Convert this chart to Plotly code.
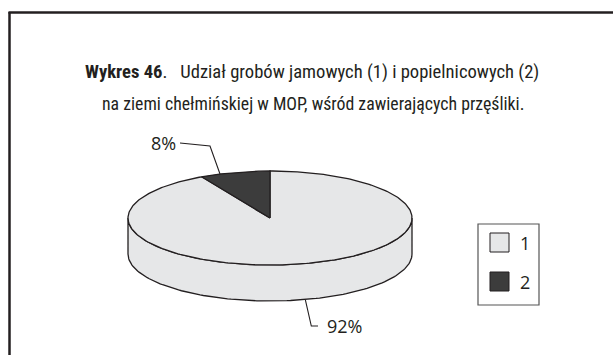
import numpy as np
import plotly.graph_objects as go

# Data
categories = ["1", "2"]
shares = [92, 8]
labels = ["92%", "8%"]
colors = ["#e6e7e8", "#3c3c3c"]

title_line1 = "<b>Wykres 46</b>.   Udział grobów jamowych (1) i popielnicowych (2)"
title_line2 = "na ziemi chełmińskiej w MOP, wśród zawierających przęśliki."

W, H = 613, 355
TITLE_FONT = "Liberation Sans Narrow, Roboto Condensed, Arial Narrow, Liberation Sans, sans-serif"
LABEL_FONT = "Open Sans, Noto Sans, DejaVu Sans, sans-serif"
INK = "#231f20"

# Pie geometry (pixel space)
cx, cy, ra, rb, depth = 270, 218, 142, 47, 36


def edge(phi_deg, dy=0.0):
    p = np.radians(phi_deg)
    return cx + ra * np.sin(p), cy - rb * np.cos(p) + dy


fig = go.Figure()

total = float(sum(shares))
starts, ends = [], []
acc = 0.0
for s in shares:
    starts.append(acc / total * 360)
    acc += s
    ends.append(acc / total * 360)

# Side walls: only the front half (90..270 deg clockwise from 12 o'clock) is visible
for i, cat in enumerate(categories):
    lo, hi = max(starts[i], 90), min(ends[i], 270)
    if hi <= lo:
        continue
    ph = np.linspace(lo, hi, 120)
    xt, yt = edge(ph)
    xb, yb = edge(ph[::-1], depth)
    xs = np.concatenate([xt, xb, xt[:1]])
    ys = np.concatenate([yt, yb, yt[:1]])
    fig.add_trace(go.Scatter(x=xs, y=ys, mode="lines", fill="toself",
                             fillcolor=colors[i], line=dict(color=INK, width=1.3),
                             hoverinfo="skip", showlegend=False))

# Top faces
for i, cat in enumerate(categories):
    ph = np.linspace(starts[i], ends[i], 300)
    xe, ye = edge(ph)
    xs = np.concatenate([[cx], xe, [cx]])
    ys = np.concatenate([[cy], ye, [cy]])
    fig.add_trace(go.Scatter(x=xs, y=ys, mode="lines", fill="toself",
                             fillcolor=colors[i], line=dict(color=INK, width=1.3),
                             hoverinfo="skip", showlegend=False, name=cat))

# Data labels with leader lines
label_pos = {"1": (344, 326), "2": (163, 143)}
for i, cat in enumerate(categories):
    mid = (starts[i] + ends[i]) / 2
    front = 90 < mid < 270
    ax_, ay_ = edge(mid, depth if front else 0)
    tx, ty = label_pos[cat]
    if front:
        elbow = (ax_ + 6, ty)
        tail = (tx - 26, ty)
        lx, ly = [ax_, elbow[0], tail[0]], [ay_, elbow[1], tail[1]]
    else:
        ax_, ay_ = 220, 174
        lx, ly = [ax_, 210, tx + 17], [ay_, ty + 3, ty]
    fig.add_trace(go.Scatter(x=lx, y=ly, mode="lines",
                             line=dict(color=INK, width=1.1),
                             hoverinfo="skip", showlegend=False))
    fig.add_annotation(x=tx, y=ty, text=labels[i], showarrow=False,
                       font=dict(family=LABEL_FONT, size=18, color=INK),
                       xanchor="center", yanchor="middle")

# Legend box
shapes = [
    dict(type="rect", xref="x", yref="y", x0=478, y0=224, x1=539, y1=305,
         line=dict(color="#555555", width=1.2), fillcolor="white", layer="below"),
    # frame around the whole figure
    dict(type="line", xref="x", yref="y", x0=9.5, y0=12, x1=9.5, y1=H,
         line=dict(color=INK, width=2.5)),
    dict(type="line", xref="x", yref="y", x0=8.5, y0=12.5, x1=W, y1=12.5,
         line=dict(color=INK, width=2.5)),
]
for i, cat in enumerate(categories):
    y0 = 233 + i * 39
    shapes.append(dict(type="rect", xref="x", yref="y", x0=490, y0=y0, x1=509, y1=y0 + 19,
                       line=dict(color=INK, width=1), fillcolor=colors[i]))
    fig.add_annotation(x=518, y=y0 + 10, text=cat, showarrow=False, xanchor="left",
                       yanchor="middle", font=dict(family=LABEL_FONT, size=18, color=INK))

# Title
fig.add_annotation(x=312, y=72, text=title_line1, showarrow=False,
                   font=dict(family=TITLE_FONT, size=18.6, color=INK), xanchor="center", yanchor="middle")
fig.add_annotation(x=313, y=103, text=title_line2, showarrow=False,
                   font=dict(family=TITLE_FONT, size=17.8, color=INK), xanchor="center", yanchor="middle")

fig.update_layout(
    width=W, height=H, margin=dict(l=0, r=0, t=0, b=0),
    paper_bgcolor="white", plot_bgcolor="white",
    xaxis=dict(range=[0, W], visible=False, fixedrange=True),
    yaxis=dict(range=[H, 0], visible=False, fixedrange=True),
    shapes=shapes, showlegend=False,
)

fig.write_html(
    "out.html",
    config={"displayModeBar": False},
    post_script=(
        "var st=document.createElement('style');"
        "st.textContent='html,body{margin:0;padding:0;overflow:hidden;}"
        "::-webkit-scrollbar{display:none;width:0;height:0;}';"
        "document.head.appendChild(st);"
    ),
)
